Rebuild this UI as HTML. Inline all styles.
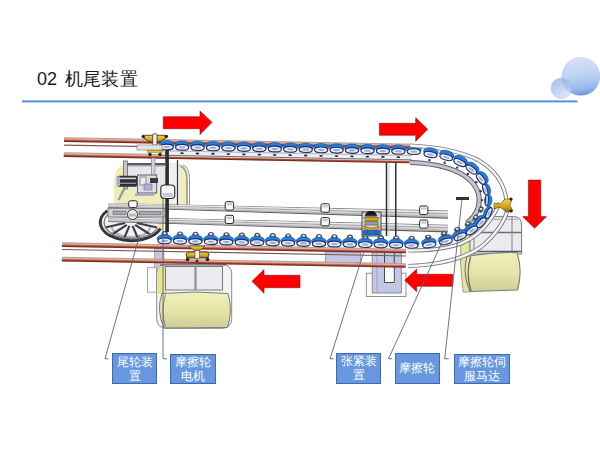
<!DOCTYPE html>
<html><head><meta charset="utf-8"><style>
html,body{margin:0;padding:0;background:#fff;width:600px;height:450px;overflow:hidden;position:relative;font-family:"Liberation Sans",sans-serif}
.t{position:absolute;font-size:18px;color:#1a1a1a;white-space:nowrap}
.lb{position:absolute;box-sizing:border-box;background:#6797df;border:1px solid #3f6ab0;color:#fff;font-size:11.6px;line-height:14px;display:flex;align-items:center;justify-content:center;text-align:center}
</style></head><body>
<svg width="600" height="450" viewBox="0 0 600 450" style="position:absolute;left:0;top:0"><defs>
<linearGradient id="cop" x1="0" y1="0" x2="0" y2="1">
 <stop offset="0" stop-color="#9c9898"/><stop offset="0.2" stop-color="#cfa696"/><stop offset="0.36" stop-color="#e8b29a"/>
 <stop offset="0.56" stop-color="#c46a52"/><stop offset="0.78" stop-color="#8c3424"/><stop offset="1" stop-color="#6a2a20"/>
</linearGradient>
<linearGradient id="bar" x1="0" y1="0" x2="0" y2="1">
 <stop offset="0" stop-color="#8c8c8c"/><stop offset="0.15" stop-color="#e8e8e8"/><stop offset="0.4" stop-color="#a8a8a8"/>
 <stop offset="0.55" stop-color="#d8d8d8"/><stop offset="0.8" stop-color="#9a9a9a"/><stop offset="1" stop-color="#5a5a5a"/>
</linearGradient>
<linearGradient id="cylY" x1="0" y1="0" x2="1" y2="0">
 <stop offset="0" stop-color="#e2df98"/><stop offset="0.35" stop-color="#f2f0bc"/><stop offset="0.7" stop-color="#eeeba8"/><stop offset="1" stop-color="#dcd88c"/>
</linearGradient>
<linearGradient id="barY" x1="0" y1="0" x2="0" y2="1">
 <stop offset="0" stop-color="#f0f0ba"/><stop offset="0.5" stop-color="#e6e6a8"/><stop offset="1" stop-color="#cdcd96"/>
</linearGradient>
<linearGradient id="bigc" x1="0.4" y1="0" x2="0.55" y2="1">
 <stop offset="0" stop-color="#d6e3f7"/><stop offset="0.5" stop-color="#bcd1f1"/><stop offset="0.82" stop-color="#98b8ec"/><stop offset="1" stop-color="#6896e2"/>
</linearGradient>
<linearGradient id="smc" x1="0.15" y1="0" x2="0.85" y2="1">
 <stop offset="0" stop-color="#7fa3e6"/><stop offset="1" stop-color="#d4e2f7"/>
</linearGradient>
<linearGradient id="gold" x1="0" y1="0" x2="0" y2="1">
 <stop offset="0" stop-color="#f2d458"/><stop offset="0.6" stop-color="#d4a21a"/><stop offset="1" stop-color="#8a6a10"/>
</linearGradient>
</defs><rect x="22" y="100.4" width="555.5" height="2" fill="#5b8ddf"/><circle cx="580.8" cy="76.3" r="19.3" fill="url(#bigc)"/><circle cx="561.3" cy="88.3" r="10.3" fill="url(#smc)" opacity="0.7" stroke="#8eb0ea" stroke-width="0.6"/><path d="M114,205 L114,182 Q114,163 132,163 L176,163 Q188,163 188,180 L188,205 Z" fill="#efeeb6"/><rect x="125" y="164" width="41" height="26" fill="#e8e8ec"/><rect x="169" y="164" width="11" height="40" fill="#f0f0f2"/><rect x="154.5" y="247" width="9.4" height="42" fill="#c4c6e6" stroke="#888" stroke-width="0.6"/><rect x="147.5" y="267.7" width="9" height="24.5" fill="#fafafa" stroke="#999" stroke-width="0.8"/><rect x="156.7" y="264.2" width="75" height="64.1" rx="9" fill="#f4f4f4" stroke="#8a8a8a" stroke-width="1"/><path d="M158,270 Q158,266 163,266 L166,266 L166,294 L158,294 Z" fill="#e6e68e"/><rect x="165.5" y="266.5" width="29.5" height="23.5" fill="#ececf0" stroke="#6e6e72" stroke-width="0.9"/><rect x="196" y="266.5" width="26.5" height="23.5" fill="#ececf0" stroke="#6e6e72" stroke-width="0.9"/><line x1="160" y1="265" x2="226" y2="265" stroke="#5a5a5e" stroke-width="1.2"/><path d="M162,293.5 Q195,290.5 228,293.5 Q233,310 227.5,327.5 L164,328 Q156,310 162,293.5 Z" fill="url(#barY)" stroke="#7a7a7a" stroke-width="1"/><path d="M165.5,294.5 Q160.5,311 165.5,327" fill="none" stroke="#8a8a86" stroke-width="1"/><path d="M461,234 L470,234 L470,292 L463,292 Q459,262 461,234 Z" fill="#e6e69a" stroke="#8a8a8a" stroke-width="0.8"/><path d="M470,216.6 L513.5,216.6 Q521.6,216.6 521.6,225 L521.6,254 L470,254 Z" fill="#ececf0" stroke="#7a7a7a" stroke-width="1"/><line x1="470" y1="232.5" x2="521.6" y2="232.5" stroke="#6e6e72" stroke-width="1.3"/><line x1="470" y1="219.3" x2="518" y2="219.3" stroke="#9a9a9e" stroke-width="0.9"/><line x1="512" y1="216.6" x2="512" y2="254" stroke="#8a8a8e" stroke-width="1.1"/><line x1="474" y1="216.6" x2="474" y2="254" stroke="#8a8a8e" stroke-width="1.1"/><line x1="470" y1="251.5" x2="521.6" y2="251.5" stroke="#5a5a5e" stroke-width="1.4"/><path d="M467,256.5 Q492,252 517,252.6 Q523,271 517.5,290 L470,291.5 Q462,273 467,256.5 Z" fill="url(#barY)" stroke="#7a7a7a" stroke-width="1.1"/><path d="M470.5,257 Q465.5,274 471,291" fill="none" stroke="#6a6a66" stroke-width="1.3"/><rect x="366.3" y="273.2" width="39.7" height="23.3" fill="#fbfbfb" stroke="#888" stroke-width="0.9"/><rect x="325.2" y="252" width="35.3" height="10.5" fill="#c4c6e6" stroke="#777" stroke-width="0.6"/><rect x="372.2" y="252" width="29.1" height="41" fill="#c4c6e6" stroke="#777" stroke-width="0.8"/><rect x="384.5" y="266" width="9.8" height="16.5" fill="#fafafa"/><polyline points="384.5,253 384.5,282.5 394.3,282.5 394.3,253" fill="none" stroke="#3a3a40" stroke-width="0.9"/><line x1="377" y1="253" x2="377" y2="292" stroke="#8a8aa0" stroke-width="0.6"/><g transform="rotate(1.066 64 140)"><rect x="64" y="137.3" width="348" height="4.6" fill="url(#cop)"/><rect x="64" y="144.5" width="100" height="1.2" fill="#7a5a55"/><rect x="64" y="152.3" width="346" height="4.6" fill="url(#cop)"/><rect x="160" y="147.5" width="252" height="6.9" fill="#eeeff2"/><line x1="160" y1="149" x2="412" y2="149" stroke="#9a9aa0" stroke-width="0.7"/><line x1="160" y1="153.4" x2="412" y2="153.4" stroke="#606066" stroke-width="0.9"/><ellipse cx="166.8" cy="151" rx="1.8" ry="0.9" fill="#2a2a30"/><ellipse cx="182.2" cy="151" rx="1.8" ry="0.9" fill="#2a2a30"/><ellipse cx="197.7" cy="151" rx="1.8" ry="0.9" fill="#2a2a30"/><ellipse cx="213.2" cy="151" rx="1.8" ry="0.9" fill="#2a2a30"/><ellipse cx="228.6" cy="151" rx="1.8" ry="0.9" fill="#2a2a30"/><ellipse cx="244.1" cy="151" rx="1.8" ry="0.9" fill="#2a2a30"/><ellipse cx="259.5" cy="151" rx="1.8" ry="0.9" fill="#2a2a30"/><ellipse cx="274.9" cy="151" rx="1.8" ry="0.9" fill="#2a2a30"/><ellipse cx="290.4" cy="151" rx="1.8" ry="0.9" fill="#2a2a30"/><ellipse cx="305.9" cy="151" rx="1.8" ry="0.9" fill="#2a2a30"/><ellipse cx="321.3" cy="151" rx="1.8" ry="0.9" fill="#2a2a30"/><ellipse cx="336.8" cy="151" rx="1.8" ry="0.9" fill="#2a2a30"/><ellipse cx="352.2" cy="151" rx="1.8" ry="0.9" fill="#2a2a30"/><ellipse cx="367.6" cy="151" rx="1.8" ry="0.9" fill="#2a2a30"/><ellipse cx="383.1" cy="151" rx="1.8" ry="0.9" fill="#2a2a30"/><ellipse cx="398.6" cy="151" rx="1.8" ry="0.9" fill="#2a2a30"/><rect x="64" y="242.3" width="344" height="4.6" fill="url(#cop)"/><rect x="64" y="249" width="344" height="1.1" fill="#7a5a55"/><rect x="64" y="256.8" width="344" height="4.6" fill="url(#cop)"/><ellipse cx="166.80" cy="142.80" rx="7.40" ry="4.1" fill="#2280dc" stroke="#1a4c8c" stroke-width="0.6" transform="rotate(0.0 166.80 142.80)"/><ellipse cx="166.80" cy="145.10" rx="6.60" ry="2.9" fill="#e8ecf4" stroke="#1f2f6e" stroke-width="1.15" transform="rotate(0.0 166.80 145.10)"/><ellipse cx="166.80" cy="145.10" rx="3.40" ry="1.10" fill="#a3acbf" transform="rotate(0.0 166.80 145.10)"/><ellipse cx="182.25" cy="142.80" rx="7.40" ry="4.1" fill="#2280dc" stroke="#1a4c8c" stroke-width="0.6" transform="rotate(0.0 182.25 142.80)"/><ellipse cx="182.25" cy="145.10" rx="6.60" ry="2.9" fill="#e8ecf4" stroke="#1f2f6e" stroke-width="1.15" transform="rotate(0.0 182.25 145.10)"/><ellipse cx="182.25" cy="145.10" rx="3.40" ry="1.10" fill="#a3acbf" transform="rotate(0.0 182.25 145.10)"/><ellipse cx="197.70" cy="142.80" rx="7.40" ry="4.1" fill="#2280dc" stroke="#1a4c8c" stroke-width="0.6" transform="rotate(0.0 197.70 142.80)"/><ellipse cx="197.70" cy="145.10" rx="6.60" ry="2.9" fill="#e8ecf4" stroke="#1f2f6e" stroke-width="1.15" transform="rotate(0.0 197.70 145.10)"/><ellipse cx="197.70" cy="145.10" rx="3.40" ry="1.10" fill="#a3acbf" transform="rotate(0.0 197.70 145.10)"/><ellipse cx="213.15" cy="142.80" rx="7.40" ry="4.1" fill="#2280dc" stroke="#1a4c8c" stroke-width="0.6" transform="rotate(0.0 213.15 142.80)"/><ellipse cx="213.15" cy="145.10" rx="6.60" ry="2.9" fill="#e8ecf4" stroke="#1f2f6e" stroke-width="1.15" transform="rotate(0.0 213.15 145.10)"/><ellipse cx="213.15" cy="145.10" rx="3.40" ry="1.10" fill="#a3acbf" transform="rotate(0.0 213.15 145.10)"/><ellipse cx="228.60" cy="142.80" rx="7.40" ry="4.1" fill="#2280dc" stroke="#1a4c8c" stroke-width="0.6" transform="rotate(0.0 228.60 142.80)"/><ellipse cx="228.60" cy="145.10" rx="6.60" ry="2.9" fill="#e8ecf4" stroke="#1f2f6e" stroke-width="1.15" transform="rotate(0.0 228.60 145.10)"/><ellipse cx="228.60" cy="145.10" rx="3.40" ry="1.10" fill="#a3acbf" transform="rotate(0.0 228.60 145.10)"/><ellipse cx="244.05" cy="142.80" rx="7.40" ry="4.1" fill="#2280dc" stroke="#1a4c8c" stroke-width="0.6" transform="rotate(0.0 244.05 142.80)"/><ellipse cx="244.05" cy="145.10" rx="6.60" ry="2.9" fill="#e8ecf4" stroke="#1f2f6e" stroke-width="1.15" transform="rotate(0.0 244.05 145.10)"/><ellipse cx="244.05" cy="145.10" rx="3.40" ry="1.10" fill="#a3acbf" transform="rotate(0.0 244.05 145.10)"/><ellipse cx="259.50" cy="142.80" rx="7.40" ry="4.1" fill="#2280dc" stroke="#1a4c8c" stroke-width="0.6" transform="rotate(0.0 259.50 142.80)"/><ellipse cx="259.50" cy="145.10" rx="6.60" ry="2.9" fill="#e8ecf4" stroke="#1f2f6e" stroke-width="1.15" transform="rotate(0.0 259.50 145.10)"/><ellipse cx="259.50" cy="145.10" rx="3.40" ry="1.10" fill="#a3acbf" transform="rotate(0.0 259.50 145.10)"/><ellipse cx="274.95" cy="142.80" rx="7.40" ry="4.1" fill="#2280dc" stroke="#1a4c8c" stroke-width="0.6" transform="rotate(0.0 274.95 142.80)"/><ellipse cx="274.95" cy="145.10" rx="6.60" ry="2.9" fill="#e8ecf4" stroke="#1f2f6e" stroke-width="1.15" transform="rotate(0.0 274.95 145.10)"/><ellipse cx="274.95" cy="145.10" rx="3.40" ry="1.10" fill="#a3acbf" transform="rotate(0.0 274.95 145.10)"/><ellipse cx="290.40" cy="142.80" rx="7.40" ry="4.1" fill="#2280dc" stroke="#1a4c8c" stroke-width="0.6" transform="rotate(0.0 290.40 142.80)"/><ellipse cx="290.40" cy="145.10" rx="6.60" ry="2.9" fill="#e8ecf4" stroke="#1f2f6e" stroke-width="1.15" transform="rotate(0.0 290.40 145.10)"/><ellipse cx="290.40" cy="145.10" rx="3.40" ry="1.10" fill="#a3acbf" transform="rotate(0.0 290.40 145.10)"/><ellipse cx="305.85" cy="142.80" rx="7.40" ry="4.1" fill="#2280dc" stroke="#1a4c8c" stroke-width="0.6" transform="rotate(0.0 305.85 142.80)"/><ellipse cx="305.85" cy="145.10" rx="6.60" ry="2.9" fill="#e8ecf4" stroke="#1f2f6e" stroke-width="1.15" transform="rotate(0.0 305.85 145.10)"/><ellipse cx="305.85" cy="145.10" rx="3.40" ry="1.10" fill="#a3acbf" transform="rotate(0.0 305.85 145.10)"/><ellipse cx="321.30" cy="142.80" rx="7.40" ry="4.1" fill="#2280dc" stroke="#1a4c8c" stroke-width="0.6" transform="rotate(0.0 321.30 142.80)"/><ellipse cx="321.30" cy="145.10" rx="6.60" ry="2.9" fill="#e8ecf4" stroke="#1f2f6e" stroke-width="1.15" transform="rotate(0.0 321.30 145.10)"/><ellipse cx="321.30" cy="145.10" rx="3.40" ry="1.10" fill="#a3acbf" transform="rotate(0.0 321.30 145.10)"/><ellipse cx="336.75" cy="142.80" rx="7.40" ry="4.1" fill="#2280dc" stroke="#1a4c8c" stroke-width="0.6" transform="rotate(0.0 336.75 142.80)"/><ellipse cx="336.75" cy="145.10" rx="6.60" ry="2.9" fill="#e8ecf4" stroke="#1f2f6e" stroke-width="1.15" transform="rotate(0.0 336.75 145.10)"/><ellipse cx="336.75" cy="145.10" rx="3.40" ry="1.10" fill="#a3acbf" transform="rotate(0.0 336.75 145.10)"/><ellipse cx="352.20" cy="142.80" rx="7.40" ry="4.1" fill="#2280dc" stroke="#1a4c8c" stroke-width="0.6" transform="rotate(0.0 352.20 142.80)"/><ellipse cx="352.20" cy="145.10" rx="6.60" ry="2.9" fill="#e8ecf4" stroke="#1f2f6e" stroke-width="1.15" transform="rotate(0.0 352.20 145.10)"/><ellipse cx="352.20" cy="145.10" rx="3.40" ry="1.10" fill="#a3acbf" transform="rotate(0.0 352.20 145.10)"/><ellipse cx="367.65" cy="142.80" rx="7.40" ry="4.1" fill="#2280dc" stroke="#1a4c8c" stroke-width="0.6" transform="rotate(0.0 367.65 142.80)"/><ellipse cx="367.65" cy="145.10" rx="6.60" ry="2.9" fill="#e8ecf4" stroke="#1f2f6e" stroke-width="1.15" transform="rotate(0.0 367.65 145.10)"/><ellipse cx="367.65" cy="145.10" rx="3.40" ry="1.10" fill="#a3acbf" transform="rotate(0.0 367.65 145.10)"/><ellipse cx="383.10" cy="142.80" rx="7.40" ry="4.1" fill="#2280dc" stroke="#1a4c8c" stroke-width="0.6" transform="rotate(0.0 383.10 142.80)"/><ellipse cx="383.10" cy="145.10" rx="6.60" ry="2.9" fill="#e8ecf4" stroke="#1f2f6e" stroke-width="1.15" transform="rotate(0.0 383.10 145.10)"/><ellipse cx="383.10" cy="145.10" rx="3.40" ry="1.10" fill="#a3acbf" transform="rotate(0.0 383.10 145.10)"/><ellipse cx="398.55" cy="142.80" rx="7.40" ry="4.1" fill="#2280dc" stroke="#1a4c8c" stroke-width="0.6" transform="rotate(0.0 398.55 142.80)"/><ellipse cx="398.55" cy="145.10" rx="6.60" ry="2.9" fill="#e8ecf4" stroke="#1f2f6e" stroke-width="1.15" transform="rotate(0.0 398.55 145.10)"/><ellipse cx="398.55" cy="145.10" rx="3.40" ry="1.10" fill="#a3acbf" transform="rotate(0.0 398.55 145.10)"/><ellipse cx="414.00" cy="142.80" rx="7.40" ry="4.1" fill="#2280dc" stroke="#1a4c8c" stroke-width="0.6" transform="rotate(0.0 414.00 142.80)"/><ellipse cx="414.00" cy="145.10" rx="6.60" ry="2.9" fill="#e8ecf4" stroke="#1f2f6e" stroke-width="1.15" transform="rotate(0.0 414.00 145.10)"/><ellipse cx="414.00" cy="145.10" rx="3.40" ry="1.10" fill="#a3acbf" transform="rotate(0.0 414.00 145.10)"/><path d="M163.1,233 A3.3,3.8 0 0 1 169.7,233 Z" fill="#4a4a52"/><ellipse cx="166.4" cy="231.4" rx="1.6" ry="1.1" fill="#e8e8ec"/><ellipse cx="166.40" cy="236.70" rx="7.40" ry="4.1" fill="#2280dc" stroke="#1a4c8c" stroke-width="0.6" transform="rotate(0.0 166.40 236.70)"/><ellipse cx="166.40" cy="239.00" rx="6.60" ry="2.9" fill="#e8ecf4" stroke="#1f2f6e" stroke-width="1.15" transform="rotate(0.0 166.40 239.00)"/><ellipse cx="166.40" cy="239.00" rx="3.40" ry="1.10" fill="#a3acbf" transform="rotate(0.0 166.40 239.00)"/><path d="M178.5,233 A3.3,3.8 0 0 1 185.1,233 Z" fill="#4a4a52"/><ellipse cx="181.8" cy="231.4" rx="1.6" ry="1.1" fill="#e8e8ec"/><ellipse cx="181.84" cy="236.70" rx="7.40" ry="4.1" fill="#2280dc" stroke="#1a4c8c" stroke-width="0.6" transform="rotate(0.0 181.84 236.70)"/><ellipse cx="181.84" cy="239.00" rx="6.60" ry="2.9" fill="#e8ecf4" stroke="#1f2f6e" stroke-width="1.15" transform="rotate(0.0 181.84 239.00)"/><ellipse cx="181.84" cy="239.00" rx="3.40" ry="1.10" fill="#a3acbf" transform="rotate(0.0 181.84 239.00)"/><path d="M194.0,233 A3.3,3.8 0 0 1 200.6,233 Z" fill="#4a4a52"/><ellipse cx="197.3" cy="231.4" rx="1.6" ry="1.1" fill="#e8e8ec"/><ellipse cx="197.28" cy="236.70" rx="7.40" ry="4.1" fill="#2280dc" stroke="#1a4c8c" stroke-width="0.6" transform="rotate(0.0 197.28 236.70)"/><ellipse cx="197.28" cy="239.00" rx="6.60" ry="2.9" fill="#e8ecf4" stroke="#1f2f6e" stroke-width="1.15" transform="rotate(0.0 197.28 239.00)"/><ellipse cx="197.28" cy="239.00" rx="3.40" ry="1.10" fill="#a3acbf" transform="rotate(0.0 197.28 239.00)"/><path d="M209.4,233 A3.3,3.8 0 0 1 216.0,233 Z" fill="#4a4a52"/><ellipse cx="212.7" cy="231.4" rx="1.6" ry="1.1" fill="#e8e8ec"/><ellipse cx="212.72" cy="236.70" rx="7.40" ry="4.1" fill="#2280dc" stroke="#1a4c8c" stroke-width="0.6" transform="rotate(0.0 212.72 236.70)"/><ellipse cx="212.72" cy="239.00" rx="6.60" ry="2.9" fill="#e8ecf4" stroke="#1f2f6e" stroke-width="1.15" transform="rotate(0.0 212.72 239.00)"/><ellipse cx="212.72" cy="239.00" rx="3.40" ry="1.10" fill="#a3acbf" transform="rotate(0.0 212.72 239.00)"/><path d="M224.9,233 A3.3,3.8 0 0 1 231.5,233 Z" fill="#4a4a52"/><ellipse cx="228.2" cy="231.4" rx="1.6" ry="1.1" fill="#e8e8ec"/><ellipse cx="228.16" cy="236.70" rx="7.40" ry="4.1" fill="#2280dc" stroke="#1a4c8c" stroke-width="0.6" transform="rotate(0.0 228.16 236.70)"/><ellipse cx="228.16" cy="239.00" rx="6.60" ry="2.9" fill="#e8ecf4" stroke="#1f2f6e" stroke-width="1.15" transform="rotate(0.0 228.16 239.00)"/><ellipse cx="228.16" cy="239.00" rx="3.40" ry="1.10" fill="#a3acbf" transform="rotate(0.0 228.16 239.00)"/><path d="M240.3,233 A3.3,3.8 0 0 1 246.9,233 Z" fill="#4a4a52"/><ellipse cx="243.6" cy="231.4" rx="1.6" ry="1.1" fill="#e8e8ec"/><ellipse cx="243.60" cy="236.70" rx="7.40" ry="4.1" fill="#2280dc" stroke="#1a4c8c" stroke-width="0.6" transform="rotate(0.0 243.60 236.70)"/><ellipse cx="243.60" cy="239.00" rx="6.60" ry="2.9" fill="#e8ecf4" stroke="#1f2f6e" stroke-width="1.15" transform="rotate(0.0 243.60 239.00)"/><ellipse cx="243.60" cy="239.00" rx="3.40" ry="1.10" fill="#a3acbf" transform="rotate(0.0 243.60 239.00)"/><path d="M255.7,233 A3.3,3.8 0 0 1 262.3,233 Z" fill="#4a4a52"/><ellipse cx="259.0" cy="231.4" rx="1.6" ry="1.1" fill="#e8e8ec"/><ellipse cx="259.04" cy="236.70" rx="7.40" ry="4.1" fill="#2280dc" stroke="#1a4c8c" stroke-width="0.6" transform="rotate(0.0 259.04 236.70)"/><ellipse cx="259.04" cy="239.00" rx="6.60" ry="2.9" fill="#e8ecf4" stroke="#1f2f6e" stroke-width="1.15" transform="rotate(0.0 259.04 239.00)"/><ellipse cx="259.04" cy="239.00" rx="3.40" ry="1.10" fill="#a3acbf" transform="rotate(0.0 259.04 239.00)"/><path d="M271.2,233 A3.3,3.8 0 0 1 277.8,233 Z" fill="#4a4a52"/><ellipse cx="274.5" cy="231.4" rx="1.6" ry="1.1" fill="#e8e8ec"/><ellipse cx="274.48" cy="236.70" rx="7.40" ry="4.1" fill="#2280dc" stroke="#1a4c8c" stroke-width="0.6" transform="rotate(0.0 274.48 236.70)"/><ellipse cx="274.48" cy="239.00" rx="6.60" ry="2.9" fill="#e8ecf4" stroke="#1f2f6e" stroke-width="1.15" transform="rotate(0.0 274.48 239.00)"/><ellipse cx="274.48" cy="239.00" rx="3.40" ry="1.10" fill="#a3acbf" transform="rotate(0.0 274.48 239.00)"/><path d="M286.6,233 A3.3,3.8 0 0 1 293.2,233 Z" fill="#4a4a52"/><ellipse cx="289.9" cy="231.4" rx="1.6" ry="1.1" fill="#e8e8ec"/><ellipse cx="289.92" cy="236.70" rx="7.40" ry="4.1" fill="#2280dc" stroke="#1a4c8c" stroke-width="0.6" transform="rotate(0.0 289.92 236.70)"/><ellipse cx="289.92" cy="239.00" rx="6.60" ry="2.9" fill="#e8ecf4" stroke="#1f2f6e" stroke-width="1.15" transform="rotate(0.0 289.92 239.00)"/><ellipse cx="289.92" cy="239.00" rx="3.40" ry="1.10" fill="#a3acbf" transform="rotate(0.0 289.92 239.00)"/><path d="M302.1,233 A3.3,3.8 0 0 1 308.7,233 Z" fill="#4a4a52"/><ellipse cx="305.4" cy="231.4" rx="1.6" ry="1.1" fill="#e8e8ec"/><ellipse cx="305.36" cy="236.70" rx="7.40" ry="4.1" fill="#2280dc" stroke="#1a4c8c" stroke-width="0.6" transform="rotate(0.0 305.36 236.70)"/><ellipse cx="305.36" cy="239.00" rx="6.60" ry="2.9" fill="#e8ecf4" stroke="#1f2f6e" stroke-width="1.15" transform="rotate(0.0 305.36 239.00)"/><ellipse cx="305.36" cy="239.00" rx="3.40" ry="1.10" fill="#a3acbf" transform="rotate(0.0 305.36 239.00)"/><path d="M317.5,233 A3.3,3.8 0 0 1 324.1,233 Z" fill="#4a4a52"/><ellipse cx="320.8" cy="231.4" rx="1.6" ry="1.1" fill="#e8e8ec"/><ellipse cx="320.80" cy="236.70" rx="7.40" ry="4.1" fill="#2280dc" stroke="#1a4c8c" stroke-width="0.6" transform="rotate(0.0 320.80 236.70)"/><ellipse cx="320.80" cy="239.00" rx="6.60" ry="2.9" fill="#e8ecf4" stroke="#1f2f6e" stroke-width="1.15" transform="rotate(0.0 320.80 239.00)"/><ellipse cx="320.80" cy="239.00" rx="3.40" ry="1.10" fill="#a3acbf" transform="rotate(0.0 320.80 239.00)"/><path d="M332.9,233 A3.3,3.8 0 0 1 339.5,233 Z" fill="#4a4a52"/><ellipse cx="336.2" cy="231.4" rx="1.6" ry="1.1" fill="#e8e8ec"/><ellipse cx="336.24" cy="236.70" rx="7.40" ry="4.1" fill="#2280dc" stroke="#1a4c8c" stroke-width="0.6" transform="rotate(0.0 336.24 236.70)"/><ellipse cx="336.24" cy="239.00" rx="6.60" ry="2.9" fill="#e8ecf4" stroke="#1f2f6e" stroke-width="1.15" transform="rotate(0.0 336.24 239.00)"/><ellipse cx="336.24" cy="239.00" rx="3.40" ry="1.10" fill="#a3acbf" transform="rotate(0.0 336.24 239.00)"/><path d="M348.4,233 A3.3,3.8 0 0 1 355.0,233 Z" fill="#4a4a52"/><ellipse cx="351.7" cy="231.4" rx="1.6" ry="1.1" fill="#e8e8ec"/><ellipse cx="351.68" cy="236.70" rx="7.40" ry="4.1" fill="#2280dc" stroke="#1a4c8c" stroke-width="0.6" transform="rotate(0.0 351.68 236.70)"/><ellipse cx="351.68" cy="239.00" rx="6.60" ry="2.9" fill="#e8ecf4" stroke="#1f2f6e" stroke-width="1.15" transform="rotate(0.0 351.68 239.00)"/><ellipse cx="351.68" cy="239.00" rx="3.40" ry="1.10" fill="#a3acbf" transform="rotate(0.0 351.68 239.00)"/><path d="M363.8,233 A3.3,3.8 0 0 1 370.4,233 Z" fill="#4a4a52"/><ellipse cx="367.1" cy="231.4" rx="1.6" ry="1.1" fill="#e8e8ec"/><ellipse cx="367.12" cy="236.70" rx="7.40" ry="4.1" fill="#2280dc" stroke="#1a4c8c" stroke-width="0.6" transform="rotate(0.0 367.12 236.70)"/><ellipse cx="367.12" cy="239.00" rx="6.60" ry="2.9" fill="#e8ecf4" stroke="#1f2f6e" stroke-width="1.15" transform="rotate(0.0 367.12 239.00)"/><ellipse cx="367.12" cy="239.00" rx="3.40" ry="1.10" fill="#a3acbf" transform="rotate(0.0 367.12 239.00)"/><path d="M379.3,233 A3.3,3.8 0 0 1 385.9,233 Z" fill="#4a4a52"/><ellipse cx="382.6" cy="231.4" rx="1.6" ry="1.1" fill="#e8e8ec"/><ellipse cx="382.56" cy="236.70" rx="7.40" ry="4.1" fill="#2280dc" stroke="#1a4c8c" stroke-width="0.6" transform="rotate(0.0 382.56 236.70)"/><ellipse cx="382.56" cy="239.00" rx="6.60" ry="2.9" fill="#e8ecf4" stroke="#1f2f6e" stroke-width="1.15" transform="rotate(0.0 382.56 239.00)"/><ellipse cx="382.56" cy="239.00" rx="3.40" ry="1.10" fill="#a3acbf" transform="rotate(0.0 382.56 239.00)"/><path d="M394.7,233 A3.3,3.8 0 0 1 401.3,233 Z" fill="#4a4a52"/><ellipse cx="398.0" cy="231.4" rx="1.6" ry="1.1" fill="#e8e8ec"/><ellipse cx="398.00" cy="236.70" rx="7.40" ry="4.1" fill="#2280dc" stroke="#1a4c8c" stroke-width="0.6" transform="rotate(0.0 398.00 236.70)"/><ellipse cx="398.00" cy="239.00" rx="6.60" ry="2.9" fill="#e8ecf4" stroke="#1f2f6e" stroke-width="1.15" transform="rotate(0.0 398.00 239.00)"/><ellipse cx="398.00" cy="239.00" rx="3.40" ry="1.10" fill="#a3acbf" transform="rotate(0.0 398.00 239.00)"/><path d="M410.1,233 A3.3,3.8 0 0 1 416.7,233 Z" fill="#4a4a52"/><ellipse cx="413.4" cy="231.4" rx="1.6" ry="1.1" fill="#e8e8ec"/><ellipse cx="413.44" cy="236.70" rx="7.40" ry="4.1" fill="#2280dc" stroke="#1a4c8c" stroke-width="0.6" transform="rotate(0.0 413.44 236.70)"/><ellipse cx="413.44" cy="239.00" rx="6.60" ry="2.9" fill="#e8ecf4" stroke="#1f2f6e" stroke-width="1.15" transform="rotate(0.0 413.44 239.00)"/><ellipse cx="413.44" cy="239.00" rx="3.40" ry="1.10" fill="#a3acbf" transform="rotate(0.0 413.44 239.00)"/></g><path d="M142,221 L163,221 L163,230 L150,230 Z" fill="#ecea9e"/><path d="M104,224 A27,15.5 0 0 0 158,226 L158,220 L104,220 Z" fill="#f2f2f4"/><path d="M112,227 A19,10 0 0 0 150,227" fill="none" stroke="#b4b4b8" stroke-width="2.2"/><line x1="136.8" y1="223.0" x2="157.1" y2="227.5" stroke="#3e3e42" stroke-width="2.1"/><line x1="135.2" y1="224.8" x2="150.1" y2="234.5" stroke="#3e3e42" stroke-width="2.1"/><line x1="132.6" y1="225.9" x2="138.0" y2="238.5" stroke="#3e3e42" stroke-width="2.1"/><line x1="129.4" y1="225.9" x2="124.0" y2="238.5" stroke="#3e3e42" stroke-width="2.1"/><line x1="126.8" y1="224.8" x2="111.9" y2="234.5" stroke="#3e3e42" stroke-width="2.1"/><line x1="125.2" y1="223.0" x2="104.9" y2="227.5" stroke="#3e3e42" stroke-width="2.1"/><path d="M107.5,210.6 A31,18.3 0 1 0 160.5,228.5" fill="none" stroke="#36363a" stroke-width="3"/><path d="M110.5,212.5 A27.5,15.8 0 1 0 157.5,228" fill="none" stroke="#7a7a7e" stroke-width="1.4"/><path d="M102,222 A29,17 0 0 0 110,234" fill="none" stroke="#c8c8cc" stroke-width="0.8"/><polygon points="108.0,202.92 448.0,210.50 448.0,211.48 108.0,203.50" fill="#7a7a7e"/><polygon points="108.0,203.50 448.0,211.48 448.0,212.94 108.0,204.37" fill="#ececee"/><polygon points="108.0,204.37 448.0,212.94 448.0,214.57 108.0,205.34" fill="#a9a9ad"/><polygon points="108.0,205.34 448.0,214.57 448.0,215.55 108.0,205.92" fill="#d2d2d6"/><polygon points="108.0,205.92 448.0,215.55 448.0,217.42 108.0,207.03" fill="#b8b8bc"/><polygon points="108.0,207.03 448.0,217.42 448.0,218.64 108.0,207.76" fill="#5e5e62"/><polygon points="108.0,216.59 448.0,224.75 448.0,225.67 108.0,217.24" fill="#7a7a7e"/><polygon points="108.0,217.24 448.0,225.67 448.0,227.05 108.0,218.21" fill="#ececee"/><polygon points="108.0,218.21 448.0,227.05 448.0,228.58 108.0,219.29" fill="#a9a9ad"/><polygon points="108.0,219.29 448.0,228.58 448.0,229.50 108.0,219.93" fill="#d2d2d6"/><polygon points="108.0,219.93 448.0,229.50 448.0,231.27 108.0,221.17" fill="#b8b8bc"/><polygon points="108.0,221.17 448.0,231.27 448.0,232.42 108.0,221.98" fill="#5e5e62"/><rect x="128.75" y="200.78" width="8.4" height="6.7" rx="1.6" fill="#fafafa" stroke="#2a2a2a" stroke-width="1"/><rect x="225.2" y="201.63" width="8.4" height="8.5" rx="1.6" fill="#fafafa" stroke="#2a2a2a" stroke-width="1"/><rect x="226.7" y="203.03" width="5.4" height="2.2" fill="#c8c8cc"/><rect x="225.2" y="215.31" width="8.4" height="8.2" rx="1.6" fill="#fafafa" stroke="#2a2a2a" stroke-width="1"/><rect x="226.7" y="216.71" width="5.4" height="2.2" fill="#c8c8cc"/><rect x="321.0" y="203.76" width="8.4" height="8.5" rx="1.6" fill="#fafafa" stroke="#2a2a2a" stroke-width="1"/><rect x="322.5" y="205.16" width="5.4" height="2.2" fill="#c8c8cc"/><rect x="321.0" y="217.60" width="8.4" height="8.2" rx="1.6" fill="#fafafa" stroke="#2a2a2a" stroke-width="1"/><rect x="322.5" y="219.00" width="5.4" height="2.2" fill="#c8c8cc"/><rect x="419.6" y="205.96" width="8.3" height="8.5" rx="1.6" fill="#fafafa" stroke="#2a2a2a" stroke-width="1"/><rect x="421.1" y="207.36" width="5.300000000000001" height="2.2" fill="#c8c8cc"/><rect x="419.6" y="219.97" width="8.3" height="8.2" rx="1.6" fill="#fafafa" stroke="#2a2a2a" stroke-width="1"/><rect x="421.1" y="221.37" width="5.300000000000001" height="2.2" fill="#c8c8cc"/><rect x="108" y="208.3" width="57" height="8.7" fill="#d4d4d8" stroke="#6a6a6e" stroke-width="0.8"/><rect x="113" y="211" width="13" height="3.6" fill="#a8a8ac" stroke="#555" stroke-width="0.5"/><rect x="139" y="211.3" width="22" height="3.6" fill="#a8a8ac" stroke="#555" stroke-width="0.5"/><circle cx="132.5" cy="214.5" r="5" fill="#f0f0f0" stroke="#333" stroke-width="1"/><rect x="129" y="213.5" width="7" height="3" fill="#bbb"/><path d="M410,145.5 C440,147 462,152 478,160 C494,169 504,183 506.5,200" fill="none" stroke="#7c7c84" stroke-width="4.2"/><path d="M410,145.5 C440,147 462,152 478,160 C494,169 504,183 506.5,200" fill="none" stroke="#f6f6f6" stroke-width="2.4"/><path d="M408,250.5 C430,250.5 448,248.5 461,243.5 C473,238.5 483,230 490,220 C495,213 498,207 500,203" fill="none" stroke="#7c7c84" stroke-width="4.2"/><path d="M408,250.5 C430,250.5 448,248.5 461,243.5 C473,238.5 483,230 490,220 C495,213 498,207 500,203" fill="none" stroke="#f6f6f6" stroke-width="2.4"/><path d="M408,266 C440,265 465,258 481,247 C495,235 505,222 508,208" fill="none" stroke="#7c7c84" stroke-width="4.2"/><path d="M408,266 C440,265 465,258 481,247 C495,235 505,222 508,208" fill="none" stroke="#f6f6f6" stroke-width="2.4"/><path d="M410,162.5 C438,163.5 458,169 470,180 C479,189 481,198 478,208 C476,214 472,219 467,223" fill="none" stroke="#5e5e6a" stroke-width="5.2"/><path d="M410,162.5 C438,163.5 458,169 470,180 C479,189 481,198 478,208 C476,214 472,219 467,223" fill="none" stroke="#c4c4d4" stroke-width="3.2"/><ellipse cx="430.94" cy="151.93" rx="7.38" ry="4.1" fill="#2280dc" stroke="#1a4c8c" stroke-width="0.6" transform="rotate(10.4 430.94 151.93)"/><ellipse cx="430.47" cy="154.49" rx="6.58" ry="2.9" fill="#e8ecf4" stroke="#1f2f6e" stroke-width="1.15" transform="rotate(10.4 430.47 154.49)"/><ellipse cx="430.47" cy="154.49" rx="3.39" ry="1.10" fill="#a3acbf" transform="rotate(10.4 430.47 154.49)"/><circle cx="429.4" cy="160.1" r="1.2" fill="#3a3a40"/><ellipse cx="446.91" cy="154.75" rx="7.35" ry="4.1" fill="#2280dc" stroke="#1a4c8c" stroke-width="0.6" transform="rotate(15.4 446.91 154.75)"/><ellipse cx="446.22" cy="157.25" rx="6.55" ry="2.9" fill="#e8ecf4" stroke="#1f2f6e" stroke-width="1.15" transform="rotate(15.4 446.22 157.25)"/><ellipse cx="446.22" cy="157.25" rx="3.38" ry="1.10" fill="#a3acbf" transform="rotate(15.4 446.22 157.25)"/><circle cx="444.7" cy="162.7" r="1.2" fill="#3a3a40"/><ellipse cx="460.84" cy="160.20" rx="7.25" ry="4.1" fill="#2280dc" stroke="#1a4c8c" stroke-width="0.6" transform="rotate(26.0 460.84 160.20)"/><ellipse cx="459.70" cy="162.54" rx="6.47" ry="2.9" fill="#e8ecf4" stroke="#1f2f6e" stroke-width="1.15" transform="rotate(26.0 459.70 162.54)"/><ellipse cx="459.70" cy="162.54" rx="3.33" ry="1.10" fill="#a3acbf" transform="rotate(26.0 459.70 162.54)"/><circle cx="457.2" cy="167.6" r="1.2" fill="#3a3a40"/><ellipse cx="472.98" cy="167.48" rx="7.09" ry="4.1" fill="#2280dc" stroke="#1a4c8c" stroke-width="0.6" transform="rotate(37.8 472.98 167.48)"/><ellipse cx="471.38" cy="169.54" rx="6.32" ry="2.9" fill="#e8ecf4" stroke="#1f2f6e" stroke-width="1.15" transform="rotate(37.8 471.38 169.54)"/><ellipse cx="471.38" cy="169.54" rx="3.26" ry="1.10" fill="#a3acbf" transform="rotate(37.8 471.38 169.54)"/><circle cx="467.9" cy="174.0" r="1.2" fill="#3a3a40"/><ellipse cx="483.03" cy="177.44" rx="6.79" ry="4.1" fill="#2280dc" stroke="#1a4c8c" stroke-width="0.6" transform="rotate(53.8 483.03 177.44)"/><ellipse cx="480.93" cy="178.98" rx="6.06" ry="2.9" fill="#e8ecf4" stroke="#1f2f6e" stroke-width="1.15" transform="rotate(53.8 480.93 178.98)"/><ellipse cx="480.93" cy="178.98" rx="3.12" ry="1.10" fill="#a3acbf" transform="rotate(53.8 480.93 178.98)"/><circle cx="476.3" cy="182.3" r="1.2" fill="#3a3a40"/><ellipse cx="486.56" cy="189.39" rx="6.36" ry="3.8" fill="#2280dc" stroke="#1a4c8c" stroke-width="0.6" transform="rotate(72.6 486.56 189.39)"/><ellipse cx="485.32" cy="189.78" rx="5.68" ry="1.99943365350614" fill="#e8ecf4" stroke="#1f2f6e" stroke-width="1.15" transform="rotate(72.6 485.32 189.78)"/><ellipse cx="485.32" cy="189.78" rx="2.92" ry="0.80" fill="#a3acbf" transform="rotate(72.6 485.32 189.78)"/><circle cx="480.6" cy="191.2" r="1.2" fill="#3a3a40"/><ellipse cx="488.20" cy="200.43" rx="6.00" ry="3.8" fill="#2280dc" stroke="#1a4c8c" stroke-width="0.6" transform="rotate(93.2 488.20 200.43)"/><ellipse cx="486.90" cy="200.35" rx="5.35" ry="1.5128633393690474" fill="#e8ecf4" stroke="#1f2f6e" stroke-width="1.15" transform="rotate(93.2 486.90 200.35)"/><ellipse cx="486.90" cy="200.35" rx="2.76" ry="0.61" fill="#a3acbf" transform="rotate(93.2 486.90 200.35)"/><circle cx="482.0" cy="200.1" r="1.2" fill="#3a3a40"/><ellipse cx="487.68" cy="212.54" rx="6.53" ry="3.8" fill="#2280dc" stroke="#1a4c8c" stroke-width="0.6" transform="rotate(114.3 487.68 212.54)"/><ellipse cx="488.87" cy="213.07" rx="5.82" ry="2.2243357397108934" fill="#e8ecf4" stroke="#1f2f6e" stroke-width="1.15" transform="rotate(114.3 488.87 213.07)"/><ellipse cx="488.87" cy="213.07" rx="3.00" ry="0.89" fill="#a3acbf" transform="rotate(114.3 488.87 213.07)"/><ellipse cx="481.0" cy="209.5" rx="3.2" ry="2.4" fill="#4a4a52" transform="rotate(-65.7 481.0 209.5)"/><ellipse cx="481.0" cy="208.9" rx="1.5" ry="1" fill="#e8e8ec"/><ellipse cx="479.42" cy="220.97" rx="6.92" ry="4.1" fill="#2280dc" stroke="#1a4c8c" stroke-width="0.6" transform="rotate(132.4 479.42 220.97)"/><ellipse cx="481.34" cy="222.73" rx="6.17" ry="2.9" fill="#e8ecf4" stroke="#1f2f6e" stroke-width="1.15" transform="rotate(132.4 481.34 222.73)"/><ellipse cx="481.34" cy="222.73" rx="3.18" ry="1.10" fill="#a3acbf" transform="rotate(132.4 481.34 222.73)"/><ellipse cx="475.6" cy="217.5" rx="3.2" ry="2.4" fill="#4a4a52" transform="rotate(-47.6 475.6 217.5)"/><ellipse cx="475.6" cy="216.9" rx="1.5" ry="1" fill="#e8e8ec"/><ellipse cx="470.57" cy="228.35" rx="7.16" ry="4.1" fill="#2280dc" stroke="#1a4c8c" stroke-width="0.6" transform="rotate(146.6 470.57 228.35)"/><ellipse cx="472.00" cy="230.52" rx="6.38" ry="2.9" fill="#e8ecf4" stroke="#1f2f6e" stroke-width="1.15" transform="rotate(146.6 472.00 230.52)"/><ellipse cx="472.00" cy="230.52" rx="3.29" ry="1.10" fill="#a3acbf" transform="rotate(146.6 472.00 230.52)"/><ellipse cx="467.7" cy="224.0" rx="3.2" ry="2.4" fill="#4a4a52" transform="rotate(-33.4 467.7 224.0)"/><ellipse cx="467.7" cy="223.4" rx="1.5" ry="1" fill="#e8e8ec"/><ellipse cx="459.20" cy="234.28" rx="7.28" ry="4.1" fill="#2280dc" stroke="#1a4c8c" stroke-width="0.6" transform="rotate(157.2 459.20 234.28)"/><ellipse cx="460.20" cy="236.68" rx="6.50" ry="2.9" fill="#e8ecf4" stroke="#1f2f6e" stroke-width="1.15" transform="rotate(157.2 460.20 236.68)"/><ellipse cx="460.20" cy="236.68" rx="3.35" ry="1.10" fill="#a3acbf" transform="rotate(157.2 460.20 236.68)"/><ellipse cx="457.2" cy="229.5" rx="3.2" ry="2.4" fill="#4a4a52" transform="rotate(-22.8 457.2 229.5)"/><ellipse cx="457.2" cy="228.9" rx="1.5" ry="1" fill="#e8e8ec"/><ellipse cx="445.30" cy="238.95" rx="7.35" ry="4.1" fill="#2280dc" stroke="#1a4c8c" stroke-width="0.6" transform="rotate(165.3 445.30 238.95)"/><ellipse cx="445.96" cy="241.46" rx="6.56" ry="2.9" fill="#e8ecf4" stroke="#1f2f6e" stroke-width="1.15" transform="rotate(165.3 445.96 241.46)"/><ellipse cx="445.96" cy="241.46" rx="3.38" ry="1.10" fill="#a3acbf" transform="rotate(165.3 445.96 241.46)"/><ellipse cx="444.0" cy="233.9" rx="3.2" ry="2.4" fill="#4a4a52" transform="rotate(-14.7 444.0 233.9)"/><ellipse cx="444.0" cy="233.3" rx="1.5" ry="1" fill="#e8e8ec"/><ellipse cx="428.89" cy="242.23" rx="7.39" ry="4.1" fill="#2280dc" stroke="#1a4c8c" stroke-width="0.6" transform="rotate(171.9 428.89 242.23)"/><ellipse cx="429.26" cy="244.80" rx="6.59" ry="2.9" fill="#e8ecf4" stroke="#1f2f6e" stroke-width="1.15" transform="rotate(171.9 429.26 244.80)"/><ellipse cx="429.26" cy="244.80" rx="3.39" ry="1.10" fill="#a3acbf" transform="rotate(171.9 429.26 244.80)"/><ellipse cx="428.2" cy="237.1" rx="3.2" ry="2.4" fill="#4a4a52" transform="rotate(-8.1 428.2 237.1)"/><ellipse cx="428.2" cy="236.5" rx="1.5" ry="1" fill="#e8e8ec"/><path d="M141.8,136.5 Q142,135 144,135.3 L166,135.3 Q168,135 167.8,136.8 L160,141.6 Q154.5,143.5 149,141.6 Z" fill="url(#gold)" stroke="#3a2a06" stroke-width="0.8"/><circle cx="143.3" cy="136.6" r="1.6" fill="#222"/><circle cx="166.2" cy="136.6" r="1.6" fill="#222"/><rect x="152.7" y="133.7" width="4.3" height="11.6" rx="1.5" fill="#f0f0f0" stroke="#333" stroke-width="0.8"/><rect x="137" y="145" width="25" height="5" fill="#e4e4e6" stroke="#777" stroke-width="0.6"/><rect x="147.3" y="150.2" width="15.4" height="2.2" fill="#e8c020" stroke="#6a5010" stroke-width="0.4"/><circle cx="150" cy="154.5" r="1.7" fill="#222"/><circle cx="160" cy="154.5" r="1.7" fill="#222"/><path d="M188.5,246 L205,246 L199.5,250.8 L194.5,250.8 Z" fill="url(#gold)" stroke="#4a3a08" stroke-width="0.6"/><path d="M186,254 Q187,251.5 190,252 L205,252 Q208.5,251.5 209,254 L208,258 L187,258 Z" fill="url(#gold)" stroke="#2a2006" stroke-width="0.8"/><rect x="195" y="250.5" width="4.5" height="8" fill="#f2f2f2" stroke="#444" stroke-width="0.6"/><circle cx="187.5" cy="259.5" r="1.8" fill="#222"/><circle cx="207.5" cy="259.5" r="1.8" fill="#222"/><circle cx="197" cy="261" r="1.5" fill="#333"/><path d="M494,203 L500,204 L505,199 L512,199 L510,205.5 L513,211 L506,212 L500,207 L494,209 Z" fill="url(#gold)" stroke="#5a4308" stroke-width="0.6"/><circle cx="511" cy="199" r="1.6" fill="#222"/><circle cx="511" cy="211" r="1.6" fill="#222"/><rect x="165.3" y="150" width="3.6" height="82" fill="#2e2e2e"/><line x1="177.5" y1="160" x2="177.5" y2="205" stroke="#333" stroke-width="1.2"/><line x1="386.5" y1="163" x2="386.5" y2="236" stroke="#222" stroke-width="1.4"/><line x1="395.8" y1="163" x2="395.8" y2="236" stroke="#222" stroke-width="1.4"/><line x1="389" y1="163" x2="389" y2="236" stroke="#bbb" stroke-width="0.8"/><line x1="125" y1="164.3" x2="166" y2="164.3" stroke="#5a5a5e" stroke-width="2.6"/><line x1="125" y1="166.4" x2="166" y2="166.4" stroke="#c8c8cc" stroke-width="1"/><rect x="123.4" y="161" width="4" height="28" fill="#c8c8cc" stroke="#555" stroke-width="0.7"/><rect x="151.4" y="158" width="3.6" height="19" fill="#d4d4d8" stroke="#777" stroke-width="0.6"/><line x1="118.5" y1="200" x2="125" y2="187" stroke="#9a9a9e" stroke-width="2.4"/><rect x="117" y="175.8" width="20.4" height="11" rx="2" fill="#2e2e34"/><rect x="119" y="177.6" width="17" height="1.6" fill="#d8d8e0"/><rect x="119" y="182.6" width="17" height="1.3" fill="#9a9aa6"/><rect x="116.5" y="176.5" width="3.5" height="9.5" fill="#a8acd8"/><rect x="137.4" y="175" width="19.3" height="18" fill="#dcdce2" stroke="#444" stroke-width="0.8"/><rect x="140" y="177" width="6" height="8" fill="#ececf0" stroke="#555" stroke-width="0.6"/><rect x="144" y="184" width="8" height="6" fill="#a8aee0" stroke="#666" stroke-width="0.5"/><rect x="150" y="178" width="8" height="5" fill="#3a3a40"/><rect x="135" y="193.3" width="19.3" height="2.5" fill="#9ea4d4"/><rect x="160.8" y="185" width="14" height="13.5" rx="3.5" fill="#f6f6f6" stroke="#2a2a2a" stroke-width="1.1"/><rect x="162.5" y="193" width="10.5" height="4" fill="#c8cae0"/><path d="M180,166 Q187,168 187,180 L187,205" fill="none" stroke="#9a9a9e" stroke-width="1.6"/><path d="M183,165 Q189.5,167 189.5,180 L189.5,205" fill="none" stroke="#7a7a7e" stroke-width="0.8"/><rect x="362" y="212" width="19" height="24" fill="#cfcfd3" stroke="#3a3a3e" stroke-width="0.9"/><path d="M365.5,215 A5.6,5 0 0 1 376.5,215 Z" fill="#111"/><rect x="365" y="214.5" width="12" height="2" fill="#333"/><path d="M364,217.5 L379,217.5 L377,221 L366,221 Z" fill="#d6a41c" stroke="#5a4208" stroke-width="0.5"/><rect x="365" y="221.5" width="13" height="3.5" fill="#9a9aa0" stroke="#444" stroke-width="0.5"/><path d="M364,225.5 Q371.5,231 379,225.5 L379,229 Q371.5,233 364,229 Z" fill="#d6a41c" stroke="#5a4208" stroke-width="0.5"/><rect x="363" y="230.5" width="17" height="4.5" fill="#1f6fd6" stroke="#0f3c80" stroke-width="0.5"/><line x1="367" y1="230.5" x2="367" y2="235" stroke="#0f3c80" stroke-width="0.6"/><line x1="376" y1="230.5" x2="376" y2="235" stroke="#0f3c80" stroke-width="0.6"/><polygon points="163.3,116.7 200,116.7 200,111 212,122.3 200,134.6 200,128.7 163.3,128.7" fill="#ff0000" stroke="#8a1010" stroke-width="0.6"/><polygon points="379.4,123.3 415.7,123.3 415.7,117.7 427.7,129.3 415.7,141.3 415.7,135.3 379.4,135.3" fill="#ff0000" stroke="#8a1010" stroke-width="0.6"/><polygon points="528.4,180.1 540.8,180.1 540.8,216.6 546.4,216.6 534.6,228.3 522.7,216.6 528.4,216.6" fill="#ff0000" stroke="#8a1010" stroke-width="0.6"/><polygon points="300,275.3 300,287.7 264,287.7 264,293.3 252,281.3 264,269.6 264,275.3" fill="#ff0000" stroke="#8a1010" stroke-width="0.6"/><polygon points="452.7,274.3 452.7,286.3 416.7,286.3 416.7,291.7 404.7,280.3 416.7,269 416.7,274.3" fill="#ff0000" stroke="#8a1010" stroke-width="0.6"/><polyline points="139.5,235.5 105,358.8 108.5,358.8" fill="none" stroke="#5a6478" stroke-width="0.9"/><polyline points="163,197 163,358.8 167,358.8" fill="none" stroke="#5a6478" stroke-width="0.9"/><polyline points="364.4,250 330,358.8 333.5,358.8" fill="none" stroke="#5a6478" stroke-width="0.9"/><polyline points="443,240 388.5,358.8 392,358.8" fill="none" stroke="#5a6478" stroke-width="0.9"/><polyline points="462,199 444.7,358.8 448.7,358.8" fill="none" stroke="#5a6478" stroke-width="0.9"/><rect x="456" y="197" width="13" height="3" fill="#333"/></svg>
<div class="t" style="left:37px;top:68.8px">02</div><div class="t" style="left:65px;top:67px;letter-spacing:0.2px">机尾装置</div>
<div class="lb" style="left:112px;top:353.4px;width:45.2px;height:30.4px"><span>尾轮装<br>置</span></div><div class="lb" style="left:170px;top:353.8px;width:45.5px;height:30.4px"><span>摩擦轮<br>电机</span></div><div class="lb" style="left:336px;top:353.4px;width:45px;height:30.2px"><span>张紧装<br>置</span></div><div class="lb" style="left:394.6px;top:353.4px;width:45.8px;height:30.2px"><span>摩擦轮</span></div><div class="lb" style="left:453.6px;top:353.6px;width:56.7px;height:30.1px"><span>摩擦轮伺<br>服马达</span></div>
</body></html>
